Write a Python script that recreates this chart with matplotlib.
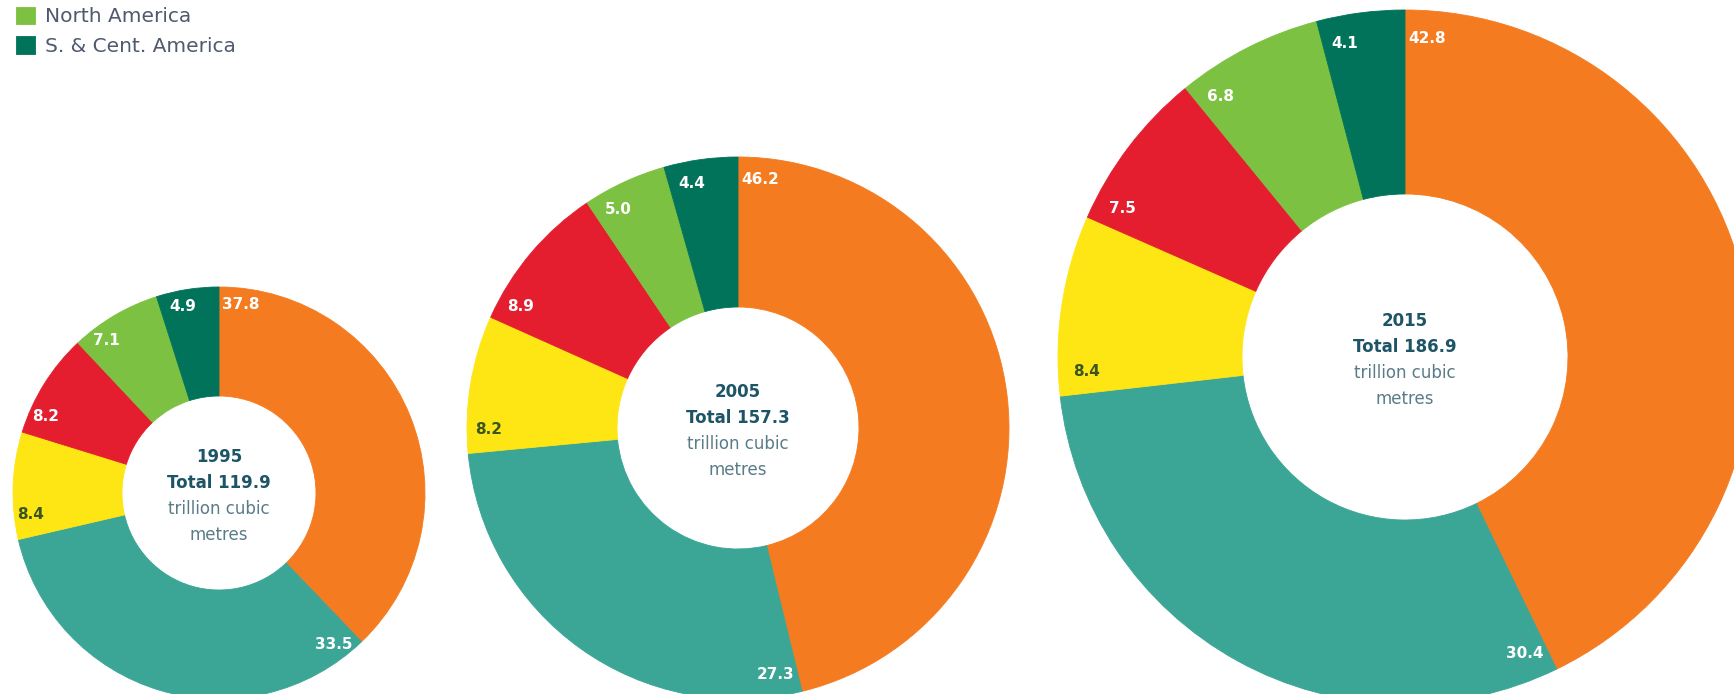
import numpy as np
import matplotlib
matplotlib.use("Agg")
import matplotlib.pyplot as plt

# ---- data ----
regions = ['Middle East', 'Europe & Eurasia', 'Asia Pacific', 'Africa',
           'North America', 'S. & Cent. America']
years = ['1995', '2005', '2015']
totals = [119.9, 157.3, 186.9]
share_1995 = [37.8, 33.5, 8.4, 8.2, 7.1, 4.9]
share_2005 = [46.2, 27.3, 8.2, 8.9, 5.0, 4.4]
share_2015 = [42.8, 30.4, 8.4, 7.5, 6.8, 4.1]
shares = [share_1995, share_2005, share_2015]

# ---- style ----
colors = ['#F47B20', '#3BA596', '#FDE614', '#E41D2F', '#7DC142', '#00735A']
label_colors = ['white', 'white', '#3a5520', 'white', 'white', 'white']
title_color = '#1d5566'
sub_color = '#5a7c88'
legend_color = '#4f5a6c'

W, H = 1734, 694
# layout in pixel units (y measured from the bottom)
centers = [(219, H - 493), (738, H - 428), (1405, H - 357)]
radii = [206, 271, 347]
holes = [97, 121, 163]

fig = plt.figure(figsize=(W / 100, H / 100), dpi=100)
ax = fig.add_axes([0, 0, 1, 1])

all_wedges = []
for vals, (cx, cy), r, rin, yr, tot in zip(shares, centers, radii, holes, years, totals):
    wedges, _ = ax.pie(vals, colors=colors, startangle=90, counterclock=False,
                       radius=r, center=(cx, cy),
                       wedgeprops=dict(width=r - rin, linewidth=0.6))
    for w in wedges:
        w.set_edgecolor(w.get_facecolor())
    all_wedges.append(wedges)
    tot_sum = sum(vals)
    cum = np.concatenate([[0], np.cumsum(vals)[:-1]])
    rl = 0.92 * r
    off = np.degrees(22.0 / rl)
    for v, c0, lc in zip(vals, cum, label_colors):
        th = np.radians(360.0 * c0 / tot_sum + off)
        ax.text(cx + rl * np.sin(th), cy + rl * np.cos(th), f'{v:.1f}',
                ha='center', va='center', color=lc, fontsize=11, fontweight='bold')
    sp = 26
    base = cy - 3
    ax.text(cx, base + 1.5 * sp, yr, ha='center', va='center', fontsize=12,
            fontweight='bold', color=title_color)
    ax.text(cx, base + 0.5 * sp, f'Total {tot:.1f}', ha='center', va='center',
            fontsize=12, fontweight='bold', color=title_color)
    ax.text(cx, base - 0.5 * sp, 'trillion cubic', ha='center', va='center',
            fontsize=12, color=sub_color)
    ax.text(cx, base - 1.5 * sp, 'metres', ha='center', va='center',
            fontsize=12, color=sub_color)

ax.set_xlim(0, W)
ax.set_ylim(0, H)
ax.set_aspect('equal')
ax.axis('off')

leg = ax.legend([all_wedges[-1][4], all_wedges[-1][5]], regions[4:],
                loc='upper left', bbox_to_anchor=(0.002, 1.008), frameon=False,
                fontsize=14.5, handlelength=0.95, handleheight=0.95,
                handletextpad=0.5, labelspacing=0.5, borderaxespad=0.4,
                borderpad=0.2)
for t in leg.get_texts():
    t.set_color(legend_color)

fig.savefig('out.png', dpi=100)
